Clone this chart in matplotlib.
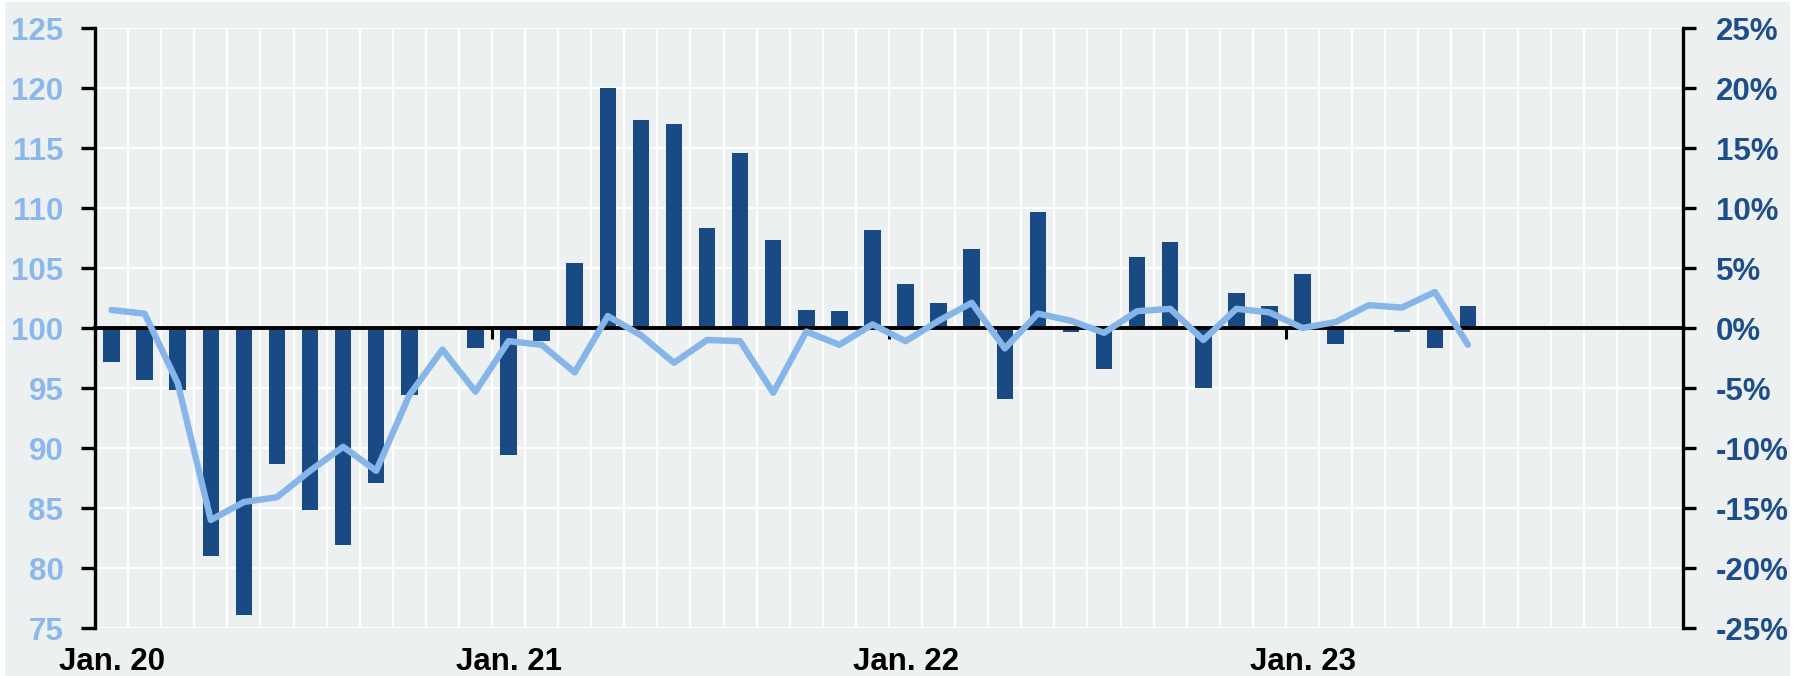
import matplotlib.pyplot as plt
import matplotlib.patches as mpatches
import numpy as np

# monthly data, Jan 2020 .. Jun 2023 (axis runs to Dec 2023)
n_months = 48
index_level = [101.5, 101.2, 95.4, 84.0, 85.5, 85.9, 88.1, 90.1, 88.1, 94.4,
               98.2, 94.7, 98.9, 98.6, 96.3, 101.0, 99.4, 97.1, 99.0, 98.9,
               94.6, 99.7, 98.6, 100.3, 98.9, 100.6, 102.1, 98.3, 101.2, 100.6,
               99.6, 101.4, 101.6, 99.0, 101.6, 101.3, 100.0, 100.5, 101.9, 101.7,
               103.0, 98.6]
yoy_change = [-2.8, -4.3, -5.2, -19.0, -23.9, -11.3, -15.2, -18.1, -12.9, -5.6,
              0.0, -1.7, -10.6, -1.1, 5.4, 20.0, 17.3, 17.0, 8.3, 14.6,
              7.3, 1.5, 1.4, 8.2, 3.7, 2.1, 6.6, -5.9, 9.7, -0.3,
              -3.4, 5.9, 7.2, -5.0, 2.9, 1.8, 4.5, -1.3, 0.0, -0.3,
              -1.7, 1.8]
year_labels = ['Jan. 20', 'Jan. 21', 'Jan. 22', 'Jan. 23']
year_pos = [0, 12, 24, 36]

bg = '#ECF0F1'
bar_color = '#1A4A84'
line_color = '#86B5E9'
left_lbl = '#8AB8EA'
right_lbl = '#1E4E8A'

plt.rcParams['font.family'] = 'Liberation Sans'
plt.rcParams['font.weight'] = 'bold'

fig = plt.figure(figsize=(17.98, 6.76), dpi=100, facecolor='white')
fig.patches.append(mpatches.Rectangle((5 / 1798, 0), 1785 / 1798, 674 / 676,
                                      transform=fig.transFigure, facecolor=bg,
                                      edgecolor='none', zorder=-10))

ax = fig.add_axes([95 / 1798, 48 / 676, 1588 / 1798, 600 / 676])
ax.set_facecolor(bg)
ax.set_axisbelow(True)
ax_line = ax.twinx()

# bars: year-on-year change, right axis
x = np.arange(len(yoy_change))
ax.bar(x, yoy_change, width=0.5, color=bar_color, zorder=1)
ax.set_xlim(-0.5, n_months - 0.5)
ax.set_ylim(-25, 25)
ax.set_yticks(np.arange(-25, 26, 5))
ax.set_yticklabels([f'{v}%' for v in range(-25, 26, 5)])
ax.yaxis.tick_right()
ax.tick_params(axis='y', direction='out', length=9, width=2.4, color='black',
               labelsize=22.5, labelcolor=right_lbl, pad=14.4)

# month grid + yearly ticks on the zero line
ax.set_xticks([p - 0.5 for p in year_pos])
ax.set_xticks(np.arange(-0.5, n_months, 1), minor=True)
ax.tick_params(axis='x', which='major', direction='out', length=8, width=2.2,
               color='black', labelbottom=False)
ax.tick_params(axis='x', which='minor', length=0)
ax.grid(axis='x', which='both', color='white', linewidth=1.6)
ax.grid(axis='y', which='major', color='white', linewidth=1.6)

ax.spines['bottom'].set_position(('data', 0))
ax.spines['bottom'].set_linewidth(2.8)
ax.spines['top'].set_visible(False)
for side in ['left', 'right']:
    ax.spines[side].set_linewidth(2.4)

sec = ax.secondary_xaxis('bottom')
sec.set_xticks(year_pos, labels=year_labels)
sec.tick_params(length=0, pad=13.5, labelsize=22.5, labelcolor='black')
sec.spines['bottom'].set_visible(False)

# line: index level, left axis
ax_line.plot(x, index_level, color=line_color, linewidth=4.6,
             solid_joinstyle='round', solid_capstyle='round')
ax_line.set_ylim(75, 125)
ax_line.set_yticks(np.arange(75, 126, 5))
ax_line.yaxis.tick_left()
ax_line.tick_params(axis='y', direction='out', length=10, width=2.4, color='black',
                    labelsize=22.5, labelcolor=left_lbl, pad=12.7)
for side in ['left', 'right', 'top', 'bottom']:
    ax_line.spines[side].set_visible(False)

fig.savefig('out.png', dpi=100, facecolor=fig.get_facecolor())
